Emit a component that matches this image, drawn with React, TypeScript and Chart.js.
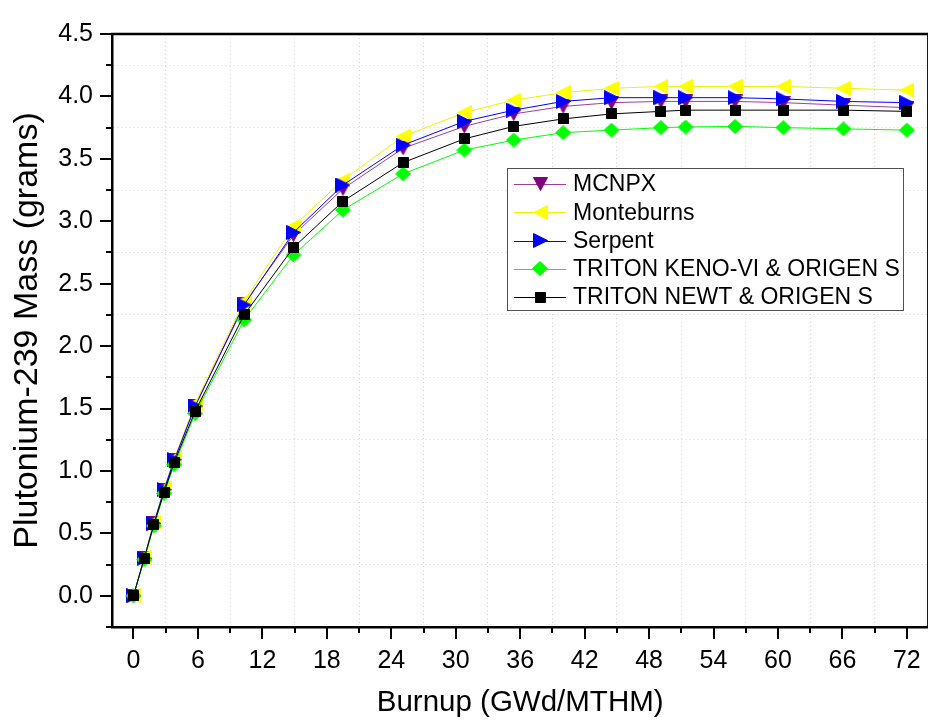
import React, { useEffect, useRef } from 'react';
import { Chart, registerables } from 'chart.js';

Chart.register(...registerables);

// ---- data ----
const burnup = [0, 1, 1.9, 2.85, 3.8, 5.75, 10.3, 14.9, 19.5, 25.1, 30.8, 35.4, 40, 44.5, 49.1, 51.4, 56, 60.5, 66.1, 72];
const mcnpx = [0, 0.3, 0.58, 0.85, 1.09, 1.52, 2.34, 2.89, 3.26, 3.585, 3.76, 3.86, 3.92, 3.95, 3.96, 3.96, 3.96, 3.95, 3.93, 3.91];
const monteburns = [0, 0.31, 0.59, 0.86, 1.1, 1.54, 2.36, 2.96, 3.33, 3.68, 3.87, 3.97, 4.03, 4.065, 4.08, 4.08, 4.08, 4.08, 4.065, 4.05];
const serpent = [0, 0.3, 0.58, 0.85, 1.09, 1.52, 2.33, 2.91, 3.29, 3.61, 3.8, 3.89, 3.96, 3.99, 3.99, 3.99, 3.99, 3.98, 3.96, 3.95];
const tritonKeno = [0, 0.29, 0.56, 0.82, 1.05, 1.46, 2.21, 2.73, 3.09, 3.38, 3.57, 3.65, 3.71, 3.73, 3.75, 3.755, 3.76, 3.75, 3.74, 3.73];
const tritonNewt = [0, 0.3, 0.57, 0.83, 1.07, 1.48, 2.25, 2.79, 3.16, 3.47, 3.66, 3.76, 3.82, 3.86, 3.88, 3.89, 3.89, 3.89, 3.89, 3.88];

const seriesLabels = ['MCNPX', 'Monteburns', 'Serpent', 'TRITON KENO-VI & ORIGEN S', 'TRITON NEWT & ORIGEN S'];

const xMajorTicks = [0, 6, 12, 18, 24, 30, 36, 42, 48, 54, 60, 66, 72];
const xMinorTicks = [3, 9, 15, 21, 27, 33, 39, 45, 51, 57, 63, 69];
const yMajorTicks = [0, 0.5, 1, 1.5, 2, 2.5, 3, 3.5, 4, 4.5];
const yMinorTicks = [-0.25, 0.25, 0.75, 1.25, 1.75, 2.25, 2.75, 3.25, 3.75, 4.25];

const xTitle = 'Burnup (GWd/MTHM)';
const yTitle = 'Plutonium-239 Mass (grams)';

const FONT = '"Liberation Sans", Arial, Helvetica, sans-serif';

type Shape = 'down' | 'left' | 'right' | 'diamond' | 'square';

function makeMarker(shape: Shape, fill: string, w: number, h: number): HTMLCanvasElement {
  const c = document.createElement('canvas');
  c.width = w;
  c.height = h;
  const ctx = c.getContext('2d')!;
  ctx.beginPath();
  if (shape === 'down') {
    ctx.moveTo(0.5, 0.5);
    ctx.lineTo(w - 0.5, 0.5);
    ctx.lineTo(w / 2, h - 0.5);
  } else if (shape === 'left') {
    ctx.moveTo(w - 0.5, 0.5);
    ctx.lineTo(w - 0.5, h - 0.5);
    ctx.lineTo(0.5, h / 2);
  } else if (shape === 'right') {
    ctx.moveTo(0.5, 0.5);
    ctx.lineTo(0.5, h - 0.5);
    ctx.lineTo(w - 0.5, h / 2);
  } else if (shape === 'diamond') {
    ctx.moveTo(w / 2, 0.5);
    ctx.lineTo(w - 0.5, h / 2);
    ctx.lineTo(w / 2, h - 0.5);
    ctx.lineTo(0.5, h / 2);
  } else {
    ctx.rect(0.5, 0.5, w - 1, h - 1);
  }
  ctx.closePath();
  ctx.fillStyle = fill;
  ctx.fill();
  ctx.strokeStyle = fill;
  ctx.lineWidth = 1;
  ctx.stroke();
  return c;
}

const isIn = (arr: number[], v: number) => arr.some((a) => Math.abs(a - v) < 1e-6);

const frameAndTicks = {
  id: 'frameAndTicks',
  afterDraw(chart: any) {
    const { ctx, chartArea: ca, scales } = chart;
    const x = scales.x;
    const y = scales.y;
    ctx.save();
    ctx.strokeStyle = '#000';
    ctx.lineWidth = 2.5;
    ctx.beginPath();
    ctx.moveTo(ca.left - 1.25, ca.top);
    ctx.lineTo(ca.right, ca.top);
    ctx.lineTo(ca.right, ca.bottom);
    ctx.stroke();
    ctx.lineWidth = 2;
    const drawX = (v: number, len: number) => {
      const px = Math.round(x.getPixelForValue(v));
      ctx.beginPath();
      ctx.moveTo(px, ca.bottom);
      ctx.lineTo(px, ca.bottom + len);
      ctx.stroke();
    };
    const drawY = (v: number, len: number) => {
      const py = Math.round(y.getPixelForValue(v));
      ctx.beginPath();
      ctx.moveTo(ca.left, py);
      ctx.lineTo(ca.left - len, py);
      ctx.stroke();
    };
    xMajorTicks.forEach((v) => drawX(v, 12));
    xMinorTicks.forEach((v) => drawX(v, 6));
    yMajorTicks.forEach((v) => drawY(v, 12));
    yMinorTicks.forEach((v) => drawY(v, 6));
    ctx.restore();
  },
};

const boxLegend = {
  id: 'boxLegend',
  afterDraw(chart: any) {
    const { ctx } = chart;
    const x0 = 507;
    const y0 = 168;
    const w = 396;
    const h = 142;
    ctx.save();
    ctx.fillStyle = '#ffffff';
    ctx.fillRect(x0, y0, w, h);
    ctx.strokeStyle = '#505050';
    ctx.lineWidth = 1;
    ctx.strokeRect(x0 + 0.5, y0 + 0.5, w, h);
    ctx.font = `23px ${FONT}`;
    ctx.textBaseline = 'middle';
    ctx.textAlign = 'left';
    chart.data.datasets.forEach((ds: any, i: number) => {
      const cy = 184 + i * 28.25;
      ctx.strokeStyle = ds.borderColor;
      ctx.lineWidth = 1;
      ctx.beginPath();
      ctx.moveTo(514, Math.round(cy) + 0.5);
      ctx.lineTo(566, Math.round(cy) + 0.5);
      ctx.stroke();
      const img = ds.pointStyle as HTMLCanvasElement;
      ctx.drawImage(img, Math.round(540 - img.width / 2), Math.round(cy - img.height / 2));
      ctx.fillStyle = '#000';
      ctx.fillText(ds.label, 573, cy + 1);
    });
    ctx.restore();
  },
};

export default function App() {
  const ref = useRef<HTMLCanvasElement>(null);

  useEffect(() => {
    const canvas = ref.current;
    if (!canvas) return;

    const specs: { values: number[]; line: string; fill: string; shape: Shape; w: number; h: number }[] = [
      { values: mcnpx, line: '#a03ca0', fill: '#800080', shape: 'down', w: 15, h: 14 },
      { values: monteburns, line: '#f0f000', fill: '#ffff00', shape: 'left', w: 15, h: 15 },
      { values: serpent, line: '#0000ff', fill: '#0000ff', shape: 'right', w: 15, h: 15 },
      { values: tritonKeno, line: '#00ff00', fill: '#00ff00', shape: 'diamond', w: 16, h: 15 },
      { values: tritonNewt, line: '#000000', fill: '#000000', shape: 'square', w: 11, h: 11 },
    ];

    const datasets = specs.map((s, i) => ({
      label: seriesLabels[i],
      data: burnup.map((b, j) => ({ x: b, y: s.values[j] })),
      borderColor: s.line,
      backgroundColor: s.fill,
      borderWidth: 1,
      pointStyle: makeMarker(s.shape, s.fill, s.w, s.h),
      pointRadius: 7,
      pointHoverRadius: 7,
      tension: 0,
      order: specs.length - i,
      clip: false as any,
    }));

    const gridColor = '#d4d4d4';

    const chart = new Chart(canvas, {
      type: 'line',
      data: { datasets },
      options: {
        responsive: false,
        animation: false,
        devicePixelRatio: 1,
        layout: { padding: { left: 0, right: 8.5, top: 23, bottom: 0 } },
        plugins: { legend: { display: false }, tooltip: { enabled: false } },
        scales: {
          x: {
            type: 'linear',
            min: -2,
            max: 74,
            afterFit: (s: any) => {
              s.height = 95;
            },
            afterBuildTicks: (s: any) => {
              s.ticks = [...xMajorTicks, ...xMinorTicks].sort((a, b) => a - b).map((v) => ({ value: v }));
            },
            ticks: {
              autoSkip: false,
              maxRotation: 0,
              padding: 19,
              color: '#000',
              font: { family: FONT, size: 25 },
              callback: (v: any) => (isIn(xMajorTicks, Number(v)) ? String(v) : ''),
            },
            grid: {
              drawTicks: false,
              lineWidth: 1,
              color: (c: any) => (c.tick && isIn(xMinorTicks, c.tick.value) ? gridColor : 'rgba(0,0,0,0)'),
            },
            border: { display: true, color: '#000', width: 2.5, dash: [1, 3] },
            title: {
              display: true,
              text: xTitle,
              color: '#000',
              font: { family: FONT, size: 29.5 },
              padding: { top: 0, bottom: 1 },
            },
          },
          y: {
            type: 'linear',
            min: -0.25,
            max: 4.5,
            afterFit: (s: any) => {
              s.width = 112;
            },
            afterBuildTicks: (s: any) => {
              s.ticks = [...yMajorTicks, ...yMinorTicks].sort((a, b) => a - b).map((v) => ({ value: v }));
            },
            ticks: {
              autoSkip: false,
              padding: 19,
              color: '#000',
              font: { family: FONT, size: 25 },
              callback: (v: any) => (isIn(yMajorTicks, Number(v)) ? Number(v).toFixed(1) : ''),
            },
            grid: {
              drawTicks: false,
              lineWidth: 1,
              color: (c: any) =>
                c.tick && isIn(yMinorTicks, c.tick.value) && c.tick.value > 0 ? gridColor : 'rgba(0,0,0,0)',
            },
            border: { display: true, color: '#000', width: 2.5, dash: [1, 3] },
            title: {
              display: true,
              text: yTitle,
              color: '#000',
              font: { family: FONT, size: 34 },
              padding: { top: 7, bottom: 0 },
            },
          },
        },
      },
      plugins: [frameAndTicks, boxLegend],
    } as any);

    return () => chart.destroy();
  }, []);

  return (
    <div
      style={{
        position: 'fixed',
        left: 0,
        top: 0,
        width: 928,
        height: 722,
        overflow: 'hidden',
        background: '#ffffff',
      }}
    >
      <canvas ref={ref} width={940} height={722} style={{ display: 'block', width: 940, height: 722 }} />
    </div>
  );
}
